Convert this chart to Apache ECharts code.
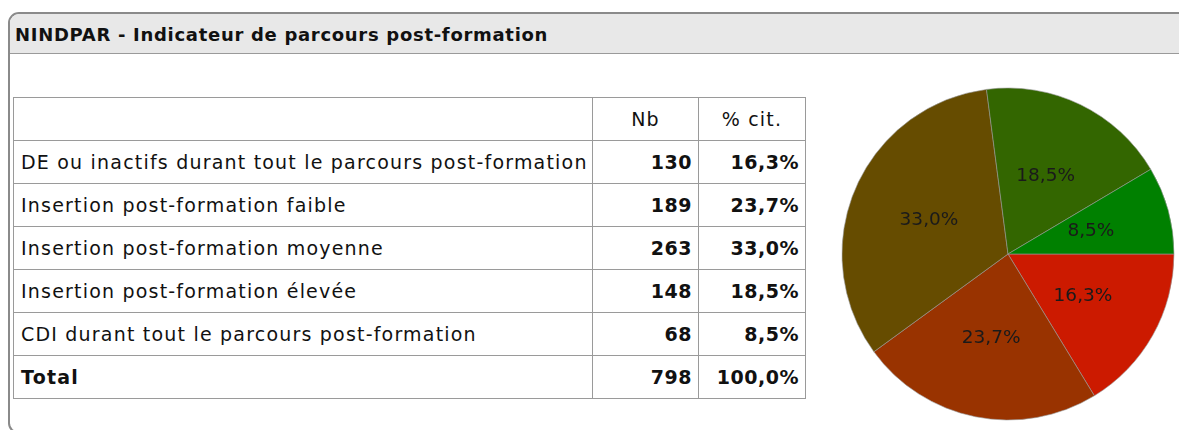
<!DOCTYPE html>
<html><head><meta charset="utf-8">
<script src="https://cdn.jsdelivr.net/npm/echarts@6/dist/echarts.min.js"></script>
<style>
html,body{margin:0;padding:0;background:#fff;width:1179px;height:430px;overflow:hidden;font-family:"DejaVu Sans",sans-serif;}
#panel{position:absolute;left:8px;top:12px;width:1200px;height:422px;border:2px solid #8a8a8a;border-radius:11px;box-sizing:border-box;}
#head{position:absolute;left:0;top:0;right:0;height:39px;background:#e8e8e8;border-bottom:1px solid #9a9a9a;border-radius:9px 9px 0 0;}
#head span{position:absolute;left:5px;top:10px;font-weight:bold;font-size:18px;letter-spacing:0.7px;color:#111;}
table{position:absolute;left:13px;top:97px;border-collapse:collapse;table-layout:fixed;width:792px;font-size:19px;letter-spacing:1.2px;color:#111;}
tr{height:43px;}
td{border:1.5px solid #9a9a9a;padding:0 6px 0 7px;white-space:nowrap;overflow:hidden;}
td.n{text-align:right;font-weight:bold;letter-spacing:0.5px;padding-right:6px;}
th{border:1.5px solid #9a9a9a;font-weight:normal;text-align:center;}
#chart{position:absolute;left:820px;top:60px;width:359px;height:370px;}
</style></head><body>
<div id="panel"><div id="head"><span>NINDPAR - Indicateur de parcours post-formation</span></div></div>
<table id="tbl"></table>
<div id="chart"></div>
<script>
const categories = [
  "DE ou inactifs durant tout le parcours post-formation",
  "Insertion post-formation faible",
  "Insertion post-formation moyenne",
  "Insertion post-formation élevée",
  "CDI durant tout le parcours post-formation"
];
const counts = [130, 189, 263, 148, 68];
const percents = ["16,3%", "23,7%", "33,0%", "18,5%", "8,5%"];
const total = 798;
const totalPercent = "100,0%";
const headers = ["", "Nb", "% cit."];
const colors = ["#cc1a00", "#993300", "#664c00", "#336600", "#008000"];

const tbl = document.getElementById('tbl');
let html = '<colgroup><col style="width:579px"><col style="width:106px"><col style="width:107px"></colgroup>';
html += '<tr><th>' + headers[0] + '</th><th>' + headers[1] + '</th><th>' + headers[2] + '</th></tr>';
categories.forEach((c, i) => {
  html += '<tr><td>' + c + '</td><td class="n">' + counts[i] + '</td><td class="n">' + percents[i] + '</td></tr>';
});
html += '<tr><td style="font-weight:bold">Total</td><td class="n">' + total + '</td><td class="n">' + totalPercent + '</td></tr>';
tbl.innerHTML = html;

const chart = echarts.init(document.getElementById('chart'));
chart.setOption({
  animation: false,
  series: [{
    type: 'pie',
    center: [188, 194],
    radius: [0, 166],
    startAngle: 0,
    clockwise: true,
    avoidLabelOverlap: false,
    data: categories.map((c, i) => ({ name: c, value: counts[i], itemStyle: { color: colors[i] } })),
    itemStyle: { borderColor: '#999', borderWidth: 0.6 },
    label: {
      show: true, position: 'inside',
      formatter: p => percents[p.dataIndex],
      color: '#1a1a1a', fontSize: 18.5, fontFamily: 'DejaVu Sans'
    },
    labelLine: { show: false },
    emphasis: { disabled: true }
  }]
});
</script>
</body></html>
